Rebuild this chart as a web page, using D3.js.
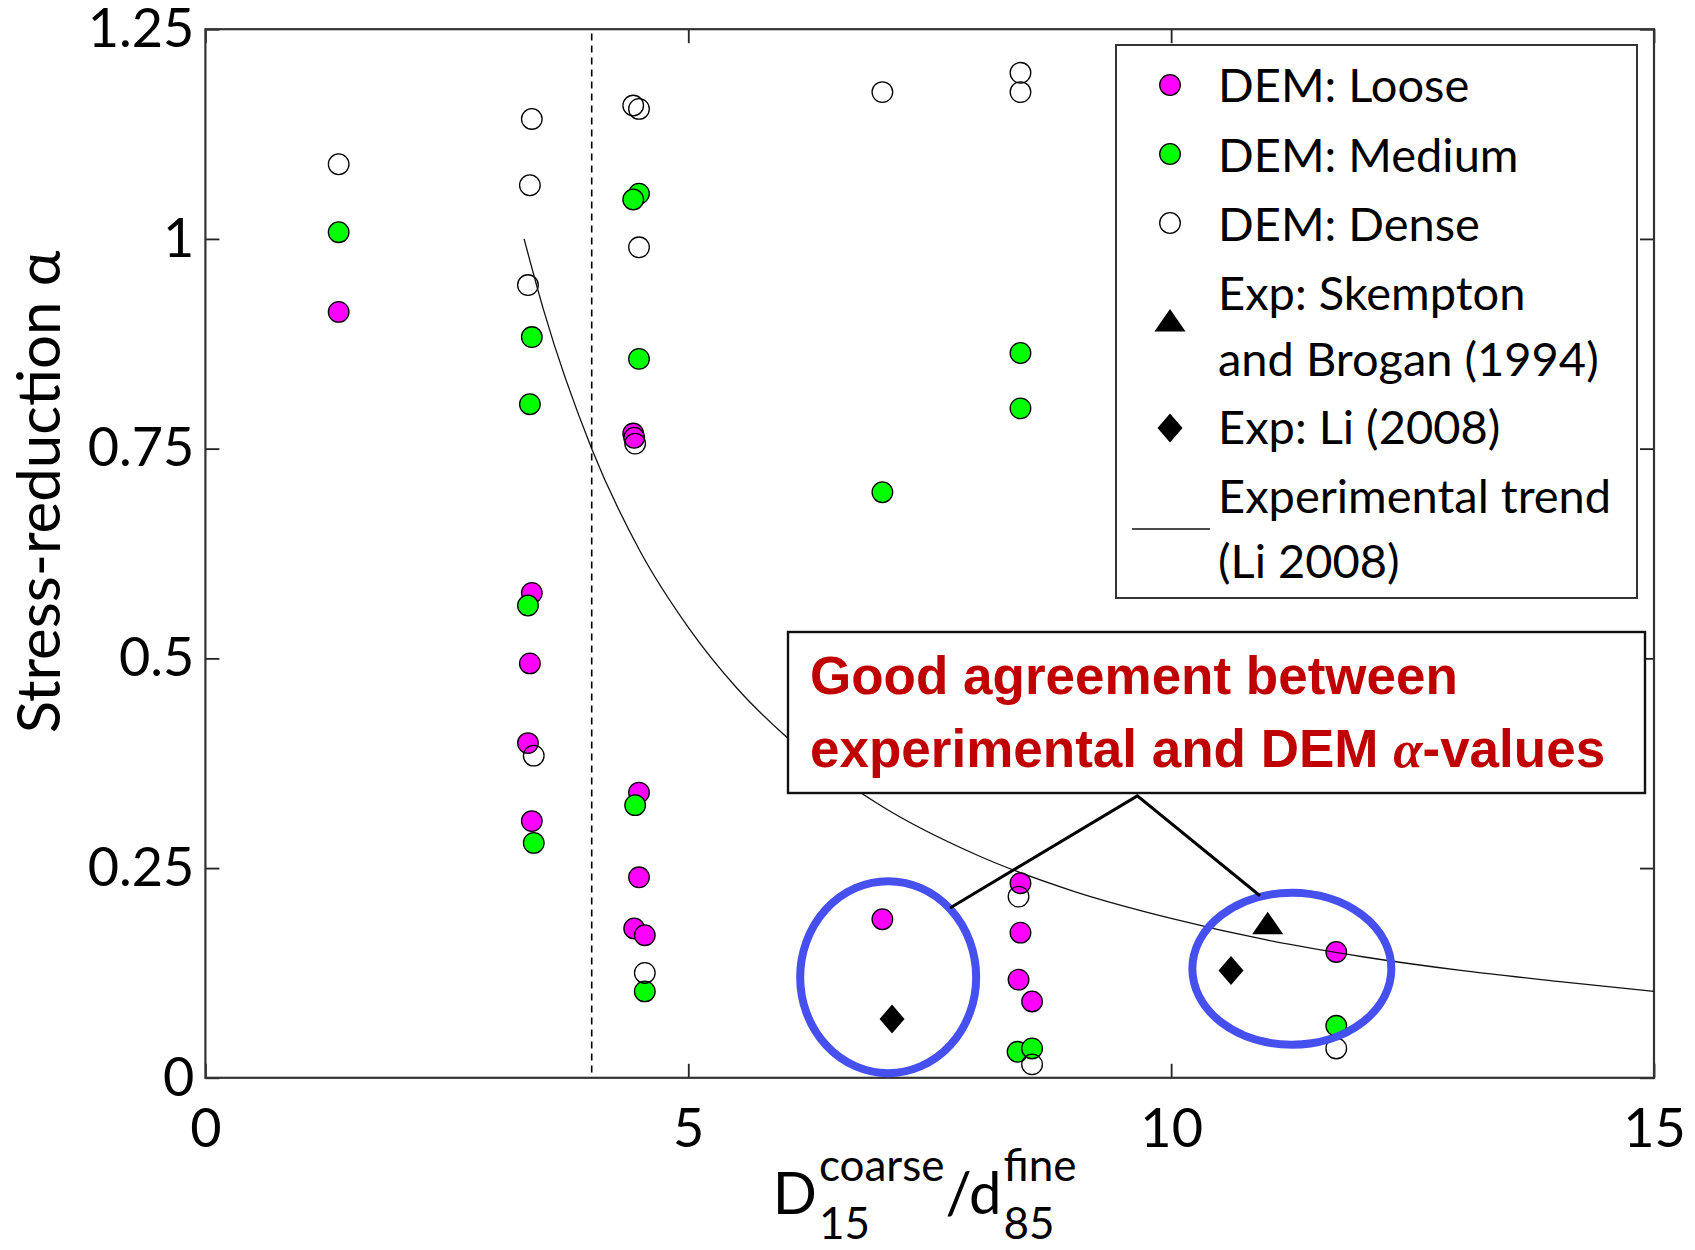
<!DOCTYPE html>
<html>
<head>
<meta charset="utf-8">
<script src="https://cdn.jsdelivr.net/npm/d3@7"></script>
<style>
  html, body { margin: 0; padding: 0; background: #fff; }
  svg { display: block; }
</style>
</head>
<body>
<svg id="chart" width="1695" height="1250"></svg>
<script>
// ---- Data: stress-reduction factor alpha vs. D15coarse / d85fine ----
const looseX  = [1.38, 3.38, 3.36, 3.34, 3.38, 4.43, 4.44, 4.49, 4.49, 4.44, 4.55, 7.01, 8.44, 8.44, 8.42, 8.56, 11.71];
const looseY  = [0.913, 0.578, 0.494, 0.399, 0.306, 0.768, 0.763, 0.340, 0.239, 0.178, 0.170, 0.189, 0.232, 0.173, 0.117, 0.091, 0.150];

const mediumX = [1.38, 3.38, 3.36, 3.34, 3.40, 4.49, 4.43, 4.49, 4.45, 4.55, 7.01, 8.44, 8.44, 8.41, 8.56, 11.71];
const mediumY = [1.008, 0.883, 0.803, 0.563, 0.280, 1.054, 1.047, 0.857, 0.325, 0.103, 0.698, 0.864, 0.798, 0.031, 0.035, 0.062];

const denseX  = [1.38, 3.38, 3.36, 3.34, 3.40, 4.43, 4.49, 4.49, 4.45, 4.55, 7.01, 8.44, 8.44, 8.42, 8.56, 11.71];
const denseY  = [1.089, 1.143, 1.064, 0.945, 0.384, 1.159, 1.155, 0.990, 0.756, 0.125, 1.175, 1.198, 1.175, 0.216, 0.016, 0.035];

const skemptonX = [11.0];
const skemptonY = [0.18];

const liX = [7.11, 10.62];
const liY = [0.070, 0.128];

// Experimental trend (Li 2008)
const trendX = [3.3, 3.5, 4.0, 4.5, 5.0, 5.5, 6.0, 7.0, 8.0, 9.0, 10.0, 11.0, 12.0, 13.0, 14.0, 15.0];
const trendY = [1.0, 0.916, 0.75, 0.628, 0.537, 0.465, 0.408, 0.324, 0.265, 0.222, 0.190, 0.164, 0.144, 0.128, 0.115, 0.103];

// Filter criterion line
const criterionX = 4;

const xTicks = [0, 5, 10, 15];
const yTicks = [0, 0.25, 0.5, 0.75, 1, 1.25];
const yTickLabels = ["0", "0.25", "0.5", "0.75", "1", "1.25"];

const legendLabels = [
  ["DEM: Loose"],
  ["DEM: Medium"],
  ["DEM: Dense"],
  ["Exp: Skempton", "and Brogan (1994)"],
  ["Exp: Li (2008)"],
  ["Experimental trend", "(Li 2008)"]
];

// ---- Layout ----
const svg = d3.select("#chart");
const pL = 205.4, pR = 1654, pT = 29.2, pB = 1077.8;
const x = d3.scaleLinear().domain([0, 15]).range([pL, pR]);
const y = d3.scaleLinear().domain([0, 1.25]).range([pB, pT]);

const uiFont = "Lato, 'Open Sans', sans-serif";
const MAGENTA = "#ff00ff", GREEN = "#00ff00", BLUE = "#4650ee", RED = "#c00000";
const R = 10.3;

// ---- Axes (ticks point inward on all four sides) ----
const tickLen = 14;
const gx = svg.append("g").attr("transform", `translate(0,${pB})`)
  .call(d3.axisBottom(x).tickValues(xTicks).tickFormat(d3.format("d"))
    .tickSizeInner(-tickLen).tickSizeOuter(0).tickPadding(31));
const gy = svg.append("g").attr("transform", `translate(${pL},0)`)
  .call(d3.axisLeft(y).tickValues(yTicks).tickFormat((d, i) => yTickLabels[i])
    .tickSizeInner(-tickLen).tickSizeOuter(0).tickPadding(11));
const gxTop = svg.append("g").attr("transform", `translate(0,${pT})`)
  .call(d3.axisTop(x).tickValues(xTicks).tickFormat("").tickSizeInner(-tickLen).tickSizeOuter(0));
const gyRight = svg.append("g").attr("transform", `translate(${pR},0)`)
  .call(d3.axisRight(y).tickValues(yTicks).tickFormat("").tickSizeInner(-tickLen).tickSizeOuter(0));

[gx, gy, gxTop, gyRight].forEach(g => {
  g.select(".domain").remove();
  g.selectAll(".tick line").attr("stroke", "#222").attr("stroke-width", 1.8);
  g.selectAll(".tick text").attr("fill", "#000").style("font-family", uiFont).style("font-size", "54px");
});

// plot frame
svg.append("rect")
  .attr("x", pL).attr("y", pT).attr("width", pR - pL).attr("height", pB - pT)
  .attr("fill", "none").attr("stroke", "#333").attr("stroke-width", 2.2);

// ---- Filter criterion (dashed vertical) ----
svg.append("line")
  .attr("x1", x(criterionX)).attr("x2", x(criterionX))
  .attr("y1", y(1.245)).attr("y2", y(0))
  .attr("stroke", "#000").attr("stroke-width", 1.6).attr("stroke-dasharray", "7,5");

// ---- DEM markers ----
function circles(xs, ys, fill) {
  svg.append("g").selectAll("circle").data(xs.map((d, i) => [d, ys[i]])).join("circle")
    .attr("cx", d => x(d[0])).attr("cy", d => y(d[1])).attr("r", R)
    .attr("fill", fill).attr("stroke", "#000").attr("stroke-width", 1.3);
}
circles(looseX, looseY, MAGENTA);
circles(mediumX, mediumY, GREEN);
circles(denseX, denseY, "none");

// ---- Experimental markers ----
const triSym = d3.symbol().type(d3.symbolTriangle).size(380);
const diamondPath = "M0,-14.5L12.5,0L0,14.5L-12.5,0Z";
svg.append("g").selectAll("path").data(skemptonX.map((d, i) => [d, skemptonY[i]])).join("path")
  .attr("d", triSym).attr("transform", d => `translate(${x(d[0])},${y(d[1])}) scale(1.05,0.88)`)
  .attr("fill", "#000");
svg.append("g").selectAll("path").data(liX.map((d, i) => [d, liY[i]])).join("path")
  .attr("d", diamondPath).attr("transform", d => `translate(${x(d[0])},${y(d[1])})`)
  .attr("fill", "#000");

// ---- Experimental trend ----
svg.append("path")
  .datum(trendX.map((d, i) => [d, trendY[i]]))
  .attr("d", d3.line().x(d => x(d[0])).y(d => y(d[1])).curve(d3.curveMonotoneX))
  .attr("fill", "none").attr("stroke", "#111").attr("stroke-width", 1.3);

// ---- Axis titles ----
svg.append("text")
  .attr("transform", `translate(60,492) rotate(-90)`)
  .attr("text-anchor", "middle")
  .style("font-family", uiFont).style("font-size", "60px")
  .text("Stress-reduction α");

// D_15^coarse / d_85^fine
(function () {
  const g = svg.append("g").style("font-family", uiFont);
  const base = 1214, supBase = 1181, subBase = 1239;
  const big = 58, small = 44;
  let cx = 0;
  const put = (t, size, yb, xx) => g.append("text").attr("x", xx).attr("y", yb)
    .style("font-size", size + "px").text(t);
  const tD = put("D", big, base, cx);
  cx += tD.node().getComputedTextLength() + 2;
  const tSup1 = put("coarse", small, supBase, cx);
  const tSub1 = put("15", small, subBase, cx);
  cx += Math.max(tSup1.node().getComputedTextLength(), tSub1.node().getComputedTextLength()) + 1;
  const tSl = put("/d", big, base, cx);
  cx += tSl.node().getComputedTextLength() + 2;
  const tSup2 = put("fine", small, supBase, cx);
  const tSub2 = put("85", small, subBase, cx);
  cx += Math.max(tSup2.node().getComputedTextLength(), tSub2.node().getComputedTextLength());
  g.attr("transform", `translate(${(pL + pR) / 2 - 5 - cx / 2},0)`);
})();

// ---- Legend ----
const lg = svg.append("g");
lg.append("rect").attr("x", 1116).attr("y", 45).attr("width", 521).attr("height", 553)
  .attr("fill", "#fff").attr("stroke", "#333").attr("stroke-width", 2);
const lineBaselines = [[102], [172], [241], [310, 376], [444], [513, 578]];
const markerY = [85, 154, 223, 324, 428, 529];
const mx = 1170;
legendLabels.forEach((lines, i) => {
  lines.forEach((t, j) => {
    lg.append("text").attr("x", 1218).attr("y", lineBaselines[i][j])
      .style("font-family", uiFont).style("font-size", "47px").text(t);
  });
});
[MAGENTA, GREEN, "#fff"].forEach((c, i) => {
  lg.append("circle").attr("cx", mx).attr("cy", markerY[i]).attr("r", R)
    .attr("fill", c).attr("stroke", "#000").attr("stroke-width", 1.3);
});
lg.append("path").attr("d", triSym).attr("transform", `translate(${mx},${markerY[3]}) scale(1.05,0.88)`).attr("fill", "#000");
lg.append("path").attr("d", diamondPath).attr("transform", `translate(${mx},${markerY[4]})`).attr("fill", "#000");
lg.append("line").attr("x1", 1132).attr("x2", 1210).attr("y1", markerY[5]).attr("y2", markerY[5])
  .attr("stroke", "#111").attr("stroke-width", 1.4);

// ---- Highlight ellipses and callout ----
svg.append("ellipse").attr("cx", x(7.07)).attr("cy", y(0.12)).attr("rx", 88).attr("ry", 96)
  .attr("fill", "none").attr("stroke", BLUE).attr("stroke-width", 8);
svg.append("ellipse").attr("cx", x(11.25)).attr("cy", y(0.13)).attr("rx", 99.5).attr("ry", 76)
  .attr("fill", "none").attr("stroke", BLUE).attr("stroke-width", 8);

svg.append("polyline")
  .attr("points", [[x(7.71), y(0.2025)], [x(9.65), y(0.336)], [x(10.92), y(0.217)]].map(p => p.join(",")).join(" "))
  .attr("fill", "none").attr("stroke", "#000").attr("stroke-width", 3);

const ax0 = 788, ay0 = 632, ax1 = 1645, ay1 = 793;
svg.append("rect").attr("x", ax0).attr("y", ay0).attr("width", ax1 - ax0).attr("height", ay1 - ay0)
  .attr("fill", "#fff").attr("stroke", "#111").attr("stroke-width", 2.4);
const note = svg.append("g").style("font-family", "'Liberation Sans', Arial, sans-serif")
  .style("font-weight", "bold").style("font-size", "53px").attr("fill", RED);
note.append("text").attr("x", 810).attr("y", 694).text("Good agreement between");
const l2 = note.append("text").attr("x", 810).attr("y", 767);
l2.append("tspan").text("experimental and DEM ");
l2.append("tspan").style("font-family", "'Liberation Serif', 'Times New Roman', serif")
  .style("font-style", "italic").text("α");
l2.append("tspan").text("-values");
</script>
</body>
</html>
